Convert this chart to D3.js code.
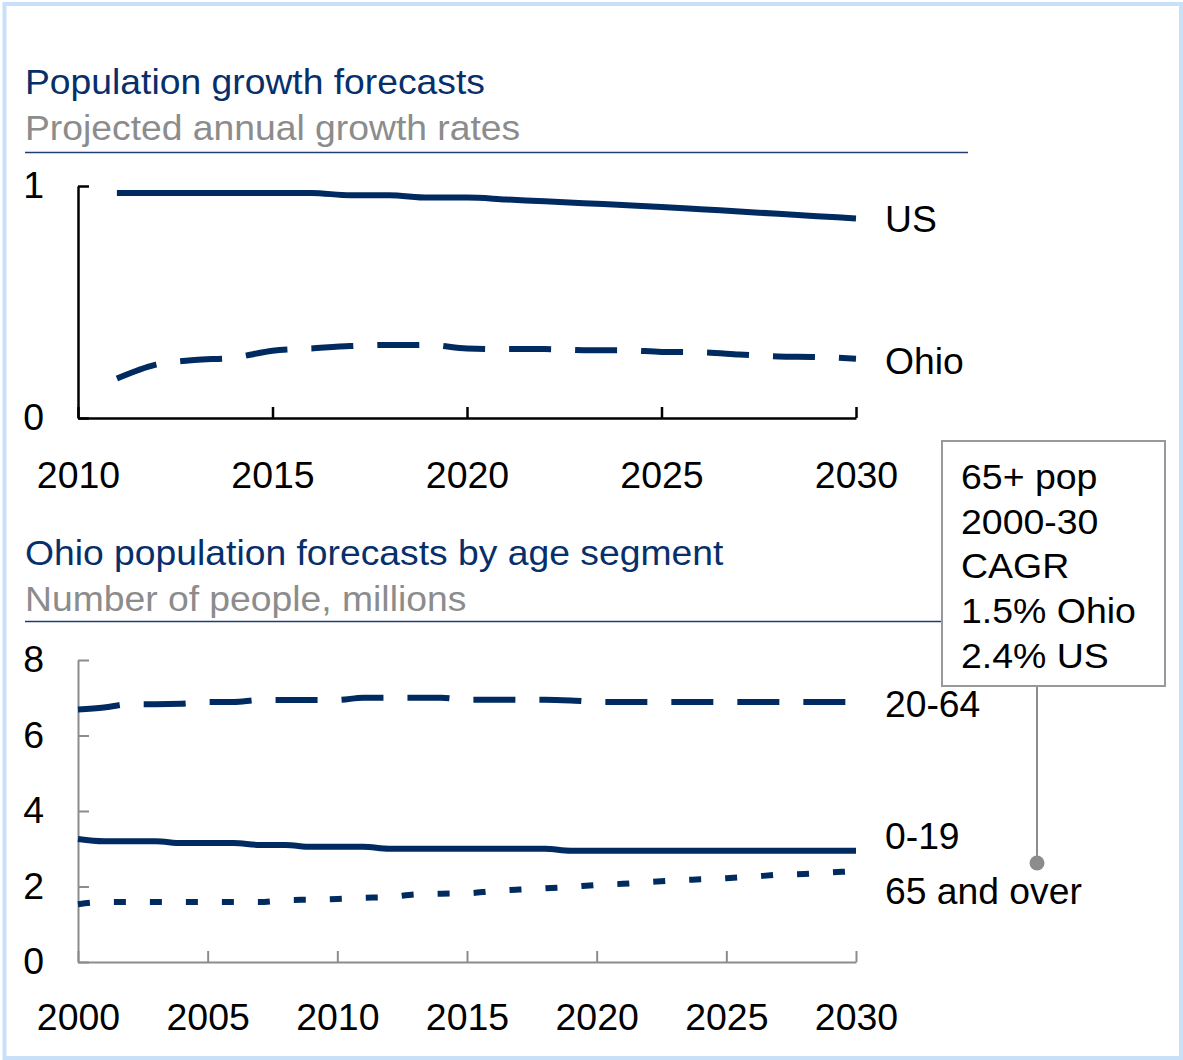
<!DOCTYPE html>
<html>
<head>
<meta charset="utf-8">
<script src="https://cdn.jsdelivr.net/npm/d3@7"></script>
<style>
  body { margin: 0; background: #fff; }
  text { font-family: Arial, "Liberation Sans", sans-serif; }
</style>
</head>
<body>
<script>
const width = 1183;
const height = 1060;

// top chart: projected annual growth rates (%)
const growthYears = d3.range(2011, 2031);
const usGrowth = [0.97, 0.97, 0.97, 0.97, 0.97, 0.97, 0.96, 0.96, 0.95, 0.95,
                  0.942, 0.934, 0.926, 0.918, 0.91, 0.90, 0.89, 0.88, 0.87, 0.86];
const ohioGrowth = [0.17, 0.23, 0.25, 0.26, 0.29, 0.30, 0.31, 0.315, 0.315, 0.30,
                    0.297, 0.297, 0.292, 0.292, 0.285, 0.283, 0.274, 0.265, 0.263, 0.255];
const growthXTicks = [2010, 2015, 2020, 2025, 2030];
const growthYTicks = [0, 1];

// bottom chart: Ohio population by age segment (millions)
const ageYears = d3.range(2000, 2031);
const age2064 = [6.69, 6.74, 6.83, 6.83, 6.84, 6.89, 6.89, 6.94, 6.94, 6.94, 6.94,
                 7.0, 7.0, 7.0, 7.0, 6.95, 6.95, 6.95, 6.95, 6.93, 6.89,
                 6.89, 6.89, 6.89, 6.89, 6.89, 6.89, 6.89, 6.89, 6.89, 6.89];
const age019 = [3.26, 3.2, 3.2, 3.2, 3.15, 3.15, 3.15, 3.1, 3.1, 3.05, 3.05,
                3.05, 3.0, 3.0, 3.0, 3.0, 3.0, 3.0, 3.0, 2.95, 2.95,
                2.95, 2.95, 2.95, 2.95, 2.95, 2.95, 2.95, 2.95, 2.95, 2.95];
const age65 = [1.53, 1.59, 1.59, 1.59, 1.59, 1.59, 1.59, 1.59, 1.64, 1.65, 1.67,
               1.70, 1.72, 1.79, 1.81, 1.82, 1.88, 1.92, 1.95, 1.99, 2.04,
               2.07, 2.12, 2.16, 2.19, 2.22, 2.26, 2.31, 2.33, 2.37, 2.41];
const ageXTicks = [2000, 2005, 2010, 2015, 2020, 2025, 2030];
const ageYTicks = [0, 2, 4, 6, 8];

const calloutLines = ["65+ pop", "2000-30", "CAGR", "1.5% Ohio", "2.4% US"];

const navy = "#002b60";
const titleColor = "#07306b";
const subColor = "#8c8c8c";

const svg = d3.select(document.body).append("svg")
    .attr("width", width)
    .attr("height", height);

// text in the original is slightly wider than Arial
function stretch(sel, k = 1.05) {
    sel.each(function () {
        const len = this.getComputedTextLength();
        d3.select(this).attr("textLength", len * k).attr("lengthAdjust", "spacingAndGlyphs");
    });
}

svg.append("rect")
    .attr("x", 4.5).attr("y", 4)
    .attr("width", 1176.5).attr("height", 1054)
    .attr("fill", "none")
    .attr("stroke", "#c8e0f8")
    .attr("stroke-width", 4);

function header(title, sub, y0, ruleY) {
    svg.append("text").attr("x", 25).attr("y", y0)
        .attr("fill", titleColor).attr("font-size", 35)
        .text(title).call(stretch, 1.065);
    svg.append("text").attr("x", 25).attr("y", y0 + 46)
        .attr("fill", subColor).attr("font-size", 35)
        .text(sub).call(stretch, 1.065);
    svg.append("line")
        .attr("x1", 25).attr("x2", 968)
        .attr("y1", ruleY).attr("y2", ruleY)
        .attr("stroke", "#1f3d73").attr("stroke-width", 1.5);
}

function styleAxis(g, color, w) {
    g.select(".domain").attr("stroke", color).attr("stroke-width", w);
    g.selectAll(".tick line").attr("stroke", color).attr("stroke-width", w);
    g.selectAll(".tick text")
        .attr("fill", "#000")
        .attr("font-size", 36)
        .attr("font-family", "Arial, 'Liberation Sans', sans-serif")
        .call(stretch, 1.04);
}

function drawLine(x, y, years, values, dash) {
    const line = d3.line()
        .x((d, i) => x(years[i]))
        .y(d => y(d))
        .curve(d3.curveMonotoneX);
    svg.append("path")
        .datum(values)
        .attr("fill", "none")
        .attr("stroke", navy)
        .attr("stroke-width", 6)
        .attr("stroke-dasharray", dash)
        .attr("d", line);
}

function seriesLabel(txt, yPos) {
    svg.append("text").attr("x", 885).attr("y", yPos)
        .attr("font-size", 36).attr("fill", "#000")
        .text(txt).call(stretch, 1.035);
}

// ---- top chart ----
header("Population growth forecasts", "Projected annual growth rates", 94, 152.5);

const x1 = d3.scaleLinear().domain([2010, 2030]).range([78, 856]);
const y1 = d3.scaleLinear().domain([0, 1]).range([418, 186]);

svg.append("g")
    .attr("transform", "translate(0,418)")
    .call(d3.axisBottom(x1).tickValues(growthXTicks).tickFormat(d3.format("d"))
        .tickSizeInner(-11).tickSizeOuter(0).tickPadding(44))
    .call(g => styleAxis(g, "#000", 2.5));

svg.append("g")
    .attr("transform", "translate(78,0)")
    .call(d3.axisLeft(y1).tickValues(growthYTicks).tickFormat(d3.format("d"))
        .tickSizeInner(-11).tickSizeOuter(0).tickPadding(34))
    .call(g => styleAxis(g, "#000", 2.5));

drawLine(x1, y1, growthYears, usGrowth, null);
drawLine(x1, y1, growthYears, ohioGrowth, "42,24");
seriesLabel("US", 232);
seriesLabel("Ohio", 374);

// ---- bottom chart ----
header("Ohio population forecasts by age segment", "Number of people, millions", 565, 621.5);

const x2 = d3.scaleLinear().domain([2000, 2030]).range([78, 856]);
const y2 = d3.scaleLinear().domain([0, 8]).range([962, 660]);

svg.append("g")
    .attr("transform", "translate(0,962)")
    .call(d3.axisBottom(x2).tickValues(ageXTicks).tickFormat(d3.format("d"))
        .tickSizeInner(-11).tickSizeOuter(0).tickPadding(42))
    .call(g => styleAxis(g, "#8c8c8c", 2));

svg.append("g")
    .attr("transform", "translate(78,0)")
    .call(d3.axisLeft(y2).tickValues(ageYTicks).tickFormat(d3.format("d"))
        .tickSizeInner(-11).tickSizeOuter(0).tickPadding(34))
    .call(g => styleAxis(g, "#8c8c8c", 2));

drawLine(x2, y2, ageYears, age2064, "42,24");
drawLine(x2, y2, ageYears, age019, null);
drawLine(x2, y2, ageYears, age65, "12,24");
seriesLabel("20-64", 717);
seriesLabel("0-19", 849);
seriesLabel("65 and over", 904);

// ---- callout ----
svg.append("line")
    .attr("x1", 1037).attr("x2", 1037)
    .attr("y1", 686).attr("y2", 863)
    .attr("stroke", "#8c8c8c").attr("stroke-width", 2);
svg.append("circle")
    .attr("cx", 1037).attr("cy", 863).attr("r", 7.5)
    .attr("fill", "#8c8c8c");
svg.append("rect")
    .attr("x", 942).attr("y", 441)
    .attr("width", 223).attr("height", 245)
    .attr("fill", "#fff")
    .attr("stroke", "#999").attr("stroke-width", 2);
svg.append("g")
    .selectAll("text")
    .data(calloutLines)
    .join("text")
    .attr("x", 961)
    .attr("y", (d, i) => 489 + i * 44.7)
    .attr("font-size", 35)
    .attr("fill", "#000")
    .text(d => d)
    .call(stretch, 1.07);
</script>
</body>
</html>
